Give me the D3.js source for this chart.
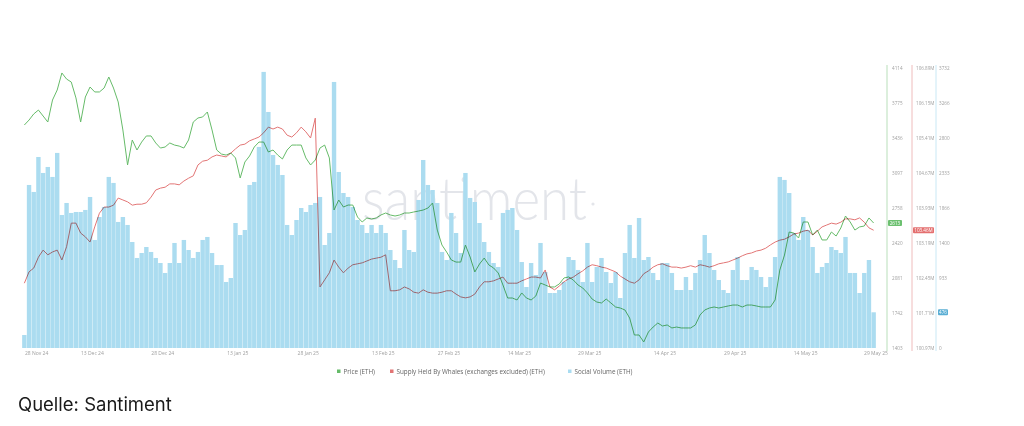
<!DOCTYPE html>
<html><head><meta charset="utf-8">
<script src="https://cdn.jsdelivr.net/npm/d3@7"></script>
<style>html,body{margin:0;padding:0;background:#fff;} svg{display:block;}</style>
</head><body>
<svg id="c" width="1024" height="426"></svg>
<script>
const startDate = "2024-11-28";
const volume = [173,2173,2080,2546,2333,2413,2280,2600,1773,1933,
1800,1813,1813,1840,2013,1440,1746,1880,2280,2200,
1680,1746,1640,1413,1200,1266,1346,1280,1200,1133,
1000,1133,1400,1133,1440,1306,1200,1280,1440,1480,
1266,1106,1106,880,933,1666,1506,1573,2173,2213,
2680,3680,3146,2573,2440,2306,1640,1506,1706,1866,
1813,1906,1933,2013,1373,1533,3546,2346,2066,2013,
1880,1706,1640,1533,1640,1533,1640,1533,1306,1173,
1066,1573,1306,1280,1973,2506,2173,2106,1933,1280,
1173,1800,1533,1266,2333,2000,1946,1666,1413,1280,
1133,1080,1800,1840,1866,1573,1146,813,1133,973,
1400,1013,733,733,773,880,1213,1173,1040,880,
1400,880,1080,1200,1013,866,1013,666,1266,1640,
1200,1733,1173,1213,1000,906,1133,1133,1000,773,
773,946,773,1000,1173,1506,1266,1040,906,773,
733,1040,1213,906,906,1080,1040,946,813,946,
1213,2280,2240,2066,1533,1440,1746,1573,1346,1000,
1080,1133,1346,1306,1266,1480,1000,1000,733,1000,
1173,476];
const price = [3562,3610,3669,3707,3649,3591,3804,3901,4066,4007,
3978,3824,3591,3833,3930,3882,3882,3920,4027,3920,
3785,3514,3175,3417,3320,3397,3456,3456,3388,3339,
3349,3388,3368,3358,3339,3417,3591,3630,3640,3688,
3514,3320,3281,3271,3291,3243,3049,3204,3262,3349,
3397,3397,3301,3320,3271,3233,3320,3368,3368,3368,
3243,3175,3223,3339,3368,3243,2739,2836,2768,2787,
2787,2671,2623,2662,2652,2662,2691,2710,2691,2681,
2691,2710,2710,2720,2729,2739,2758,2807,2545,2400,
2332,2255,2235,2235,2400,2284,2139,2216,2274,2207,
2178,2129,2013,1887,1887,1868,1936,1887,1868,1906,
2032,2013,1994,1994,2023,2081,2091,2061,2013,1984,
1936,1877,1848,1839,1877,1839,1800,1790,1771,1693,
1529,1529,1461,1558,1606,1645,1616,1626,1597,1606,
1597,1597,1597,1626,1723,1771,1790,1800,1790,1800,
1810,1819,1819,1800,1819,1819,1810,1800,1800,1800,
1868,2158,2303,2526,2516,2468,2623,2623,2497,2545,
2449,2449,2526,2487,2565,2681,2623,2545,2575,2584,
2662,2613];
const whales = [102.34,102.58,102.66,102.89,103.04,102.94,103.00,103.04,102.83,103.11,
103.61,103.61,103.40,103.32,103.21,103.53,103.82,103.95,103.95,103.99,
104.14,104.10,104.06,103.99,104.01,104.01,104.04,104.16,104.31,104.35,
104.37,104.44,104.44,104.42,104.50,104.56,104.61,104.84,104.92,104.94,
105.01,105.05,105.03,105.01,105.09,105.18,105.26,105.28,105.35,105.39,
105.43,105.52,105.64,105.60,105.64,105.60,105.47,105.43,105.52,105.64,
105.54,105.41,105.83,102.26,102.41,102.56,102.83,102.68,102.56,102.66,
102.73,102.75,102.77,102.81,102.85,102.87,102.89,102.94,102.18,102.18,
102.20,102.26,102.22,102.15,102.13,102.20,102.15,102.13,102.13,102.15,
102.18,102.18,102.11,102.05,102.03,102.05,102.11,102.26,102.37,102.37,
102.39,102.43,102.47,102.34,102.34,102.34,102.39,102.43,102.47,102.47,
102.45,102.62,102.26,102.20,102.28,102.37,102.43,102.47,102.54,102.60,
102.68,102.73,102.71,102.68,102.66,102.62,102.58,102.49,102.43,102.37,
102.34,102.41,102.54,102.60,102.68,102.73,102.75,102.71,102.68,102.68,
102.66,102.68,102.71,102.68,102.73,102.71,102.68,102.71,102.75,102.77,
102.79,102.83,102.87,102.92,102.96,102.98,103.02,103.04,103.08,103.15,
103.21,103.25,103.27,103.32,103.38,103.40,103.44,103.46,103.36,103.44,
103.53,103.57,103.61,103.59,103.63,103.70,103.70,103.68,103.72,103.63,
103.51,103.46];
const xTickDates = ["2024-11-28","2024-12-13","2024-12-28","2025-01-13","2025-01-28","2025-02-13","2025-02-27","2025-03-14","2025-03-29","2025-04-14","2025-04-29","2025-05-14","2025-05-29"];
const priceTicks = [1403,1742,2081,2420,2758,3097,3436,3775,4114];
const whaleTicks = [100.97,101.71,102.45,103.19,103.93,104.67,105.41,106.15,106.89];
const volumeTicks = [0,466,933,1400,1866,2333,2800,3266,3732];
const legendLabels = ["Price (ETH)","Supply Held By Whales (exchanges excluded) (ETH)","Social Volume (ETH)"];
const sourceText = "Quelle: Santiment";
const watermark = "santiment";

const C = {green:"#66bb69", red:"#e27575", blue:"#abdcf0", axisG:"#b9dfba", axisR:"#efbcbc", axisB:"#c9e8f5", txt:"#a0a0a0"};
const svg = d3.select("#c");
svg.append("rect").attr("width",1024).attr("height",426).attr("fill","#fff");
const parse = d3.utcParse("%Y-%m-%d");
const t0 = parse(startDate);
const dates = volume.map((_, i) => d3.utcDay.offset(t0, i));
const L = 22, R = 876, T = 68, B = 348;
const x = d3.scaleUtc().domain([t0, d3.utcDay.offset(t0, volume.length)]).range([L, R]);
const yP = d3.scaleLinear().domain([priceTicks[0], priceTicks[priceTicks.length-1]]).range([B, T]);
const yW = d3.scaleLinear().domain([whaleTicks[0], whaleTicks[whaleTicks.length-1]]).range([B, T]);
const yV = d3.scaleLinear().domain([volumeTicks[0], volumeTicks[volumeTicks.length-1]]).range([B, T]);
const step = x(dates[1]) - x(dates[0]);

// watermark
svg.append("text").attr("x", 362).attr("y", 220).attr("textLength", 225).attr("lengthAdjust","spacingAndGlyphs")
  .attr("font-family","Lato, 'Open Sans', sans-serif").attr("font-weight",300).attr("font-size",60)
  .attr("fill","#e3e5ea").text(watermark);
svg.append("circle").attr("cx",593).attr("cy",204).attr("r",1.6).attr("fill","#e3e5ea");

// bars
svg.append("g").selectAll("rect").data(volume).join("rect")
  .attr("x", (d,i) => x(dates[i]) + 0.15)
  .attr("width", step - 0.3)
  .attr("y", d => yV(d))
  .attr("height", d => B - yV(d))
  .attr("fill", C.blue);

// lines
const cx = i => x(dates[i]) + step/2;
svg.append("path").datum(whales).attr("fill","none").attr("stroke",C.red).attr("stroke-width",1)
  .style("mix-blend-mode","multiply")
  .attr("d", d3.line().x((d,i)=>cx(i)).y(d=>yW(d)));
svg.append("path").datum(price).attr("fill","none").attr("stroke",C.green).attr("stroke-width",1)
  .style("mix-blend-mode","multiply")
  .attr("d", d3.line().x((d,i)=>cx(i)).y(d=>yP(d)));

// x axis labels
const fmt = d3.utcFormat("%d %b %y");
const xg = svg.append("g").attr("font-family","'Open Sans', sans-serif").attr("font-size",5).attr("fill",C.txt);
xTickDates.forEach((s,i) => {
  const d = parse(s);
  xg.append("text").attr("x", i===0 ? L+3 : x(d)).attr("y", 355)
    .attr("text-anchor", i===0 ? "start" : "middle").text(fmt(d));
});

// right axes
function axis(xl, col, scale, ticks, f, tx) {
  svg.append("line").attr("x1",xl).attr("x2",xl).attr("y1",65).attr("y2",351).attr("stroke",col).attr("stroke-width",1);
  const g = svg.append("g").attr("font-family","'Open Sans', sans-serif").attr("font-size",4.6).attr("fill",C.txt);
  ticks.forEach(t => g.append("text").attr("x", tx).attr("y", scale(t)+1.6).text(f(t)));
}
axis(887, C.axisG, yP, priceTicks, d=>d3.format("d")(d), 892);
axis(912, C.axisR, yW, whaleTicks, d=>d3.format(".2f")(d)+"M", 916);
axis(936, C.axisB, yV, volumeTicks, d=>d3.format("d")(d), 939);

// badges
function badge(xb, w, yv, col, label) {
  svg.append("rect").attr("x",xb).attr("y",yv-3).attr("width",w).attr("height",6).attr("rx",1).attr("fill",col);
  svg.append("text").attr("x",xb+w/2).attr("y",yv+1.7).attr("text-anchor","middle").attr("font-family","'Open Sans', sans-serif")
    .attr("font-size",4.6).attr("fill","#fff").text(label);
}
badge(888, 14, yP(price[price.length-1]), "#6cc070", d3.format("d")(price[price.length-1]));
badge(913, 21, yW(whales[whales.length-1]), "#e46f6f", d3.format(".2f")(whales[whales.length-1])+"M");
badge(938, 10, yV(volume[volume.length-1]), "#5aaed4", d3.format("d")(volume[volume.length-1]));

// legend
const legCols = [C.green, C.red, "#a9dcf1"];
const legX = [337, 390, 568];
const lg = svg.append("g").attr("font-family","'Open Sans', sans-serif").attr("font-size",6.3).attr("fill","#666");
legendLabels.forEach((t,i) => {
  lg.append("rect").attr("x",legX[i]).attr("y",369.5).attr("width",3.5).attr("height",3.5).attr("fill",legCols[i]);
  lg.append("text").attr("x",legX[i]+6.5).attr("y",373.5).text(t);
});

// source
svg.append("text").attr("x",18).attr("y",411).attr("font-family","Inter, 'Noto Sans', sans-serif")
  .attr("font-size",18.5).attr("fill","#1a1a1a").text(sourceText);
</script>
</body></html>
